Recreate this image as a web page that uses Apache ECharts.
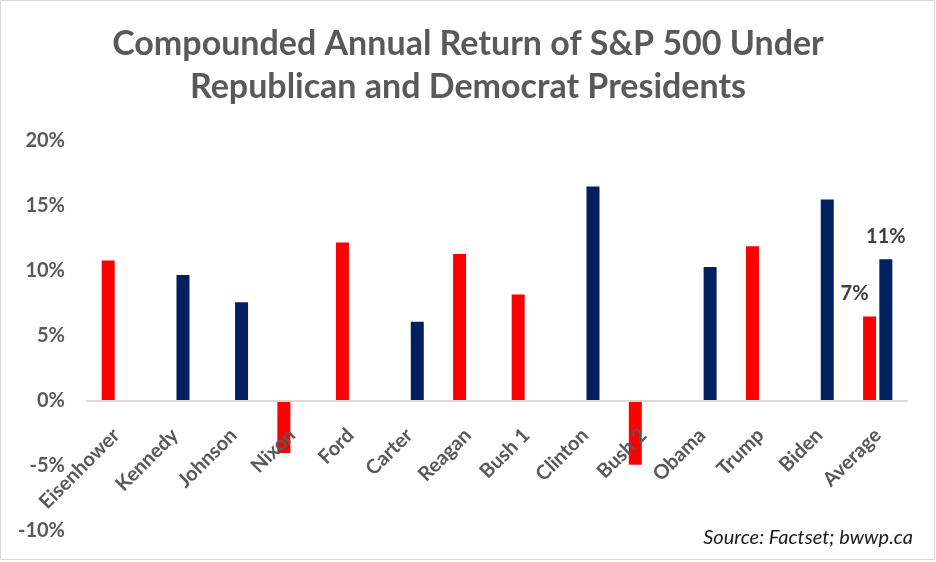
<!DOCTYPE html>
<html>
<head>
<meta charset="utf-8">
<script src="https://cdn.jsdelivr.net/npm/echarts@6/dist/echarts.min.js"></script>
<style>html,body{margin:0;padding:0;background:#fff;}#c{width:936px;height:562px;}</style>
</head>
<body>
<div id="c"></div>
<script>
var categories = ['Eisenhower','Kennedy','Johnson','Nixon','Ford','Carter','Reagan','Bush 1','Clinton','Bush 2','Obama','Trump','Biden','Average'];
var republican = [10.8, null, null, -4.0, 12.2, null, 11.3, 8.2, null, -4.9, null, 11.9, null, 6.5];
var democrat   = [null, 9.7, 7.6, null, null, 6.1, null, null, 16.5, null, 10.3, null, 15.5, 10.9];
var yTicks = [-10, -5, 0, 5, 10, 15, 20];

var FONT = 'Lato, "Open Sans", sans-serif';
var GRID_TOP = 141, GRID_BOTTOM = 31, H = 562;
var plotH = H - GRID_TOP - GRID_BOTTOM;
var yMin = yTicks[0], yMax = yTicks[yTicks.length - 1];
var zeroOffset = -plotH * (0 - yMin) / (yMax - yMin);

var chart = echarts.init(document.getElementById('c'));

function withAvgLabel(arr, offset) {
  return arr.map(function (v, i) {
    if (i === arr.length - 1 && v != null) {
      return {
        value: v,
        label: {
          show: true, position: 'top', distance: 13, offset: offset,
          formatter: function (p) { return Math.round(p.value) + '%'; },
          fontFamily: FONT, fontSize: 20, fontWeight: 'bold', color: '#404040'
        }
      };
    }
    return v;
  });
}

chart.setOption({
  animation: false,
  backgroundColor: '#fff',
  title: {
    text: 'Compounded Annual Return of S&P 500 Under\nRepublican and Democrat Presidents',
    left: 'center', top: 18,
    textStyle: { fontFamily: FONT, fontSize: 34, fontWeight: 'bold', color: '#595959', lineHeight: 43 }
  },
  grid: { left: 87, right: 29, top: GRID_TOP, bottom: GRID_BOTTOM, containLabel: false, outerBoundsMode: 'none' },
  xAxis: {
    type: 'category',
    data: categories,
    offset: zeroOffset,
    z: 5,
    axisLine: { onZero: false, lineStyle: { color: '#d9d9d9', width: 2 } },
    axisTick: { show: false },
    axisLabel: { interval: 0, rotate: 45, margin: 31, fontFamily: FONT, fontSize: 20, fontWeight: 'bold', color: '#595959' }
  },
  yAxis: {
    type: 'value', min: yMin, max: yMax, interval: 5,
    axisLine: { show: false }, axisTick: { show: false }, splitLine: { show: false },
    axisLabel: { margin: 22, formatter: '{value}%', fontFamily: FONT, fontSize: 20, fontWeight: 'bold', color: '#595959' }
  },
  series: [
    { name: 'Republican', type: 'bar', z: 2, barWidth: 13, barGap: '25%', itemStyle: { color: '#ff0000' }, data: withAvgLabel(republican, [-15, 0]) },
    { name: 'Democrat', type: 'bar', z: 2, barWidth: 13, barGap: '25%', itemStyle: { color: '#002060' }, data: withAvgLabel(democrat, [0, 0]) }
  ],
  graphic: [
    { type: 'rect', shape: { x: 0.5, y: 0.5, width: 934, height: 559 }, style: { fill: 'none', stroke: '#d9d9d9', lineWidth: 1 }, silent: true },
    { type: 'text', right: 23, top: 528, style: { text: 'Source: Factset; bwwp.ca', fontFamily: FONT, fontSize: 20, fontStyle: 'italic', fill: '#1a1a1a' } }
  ]
});
</script>
</body>
</html>
